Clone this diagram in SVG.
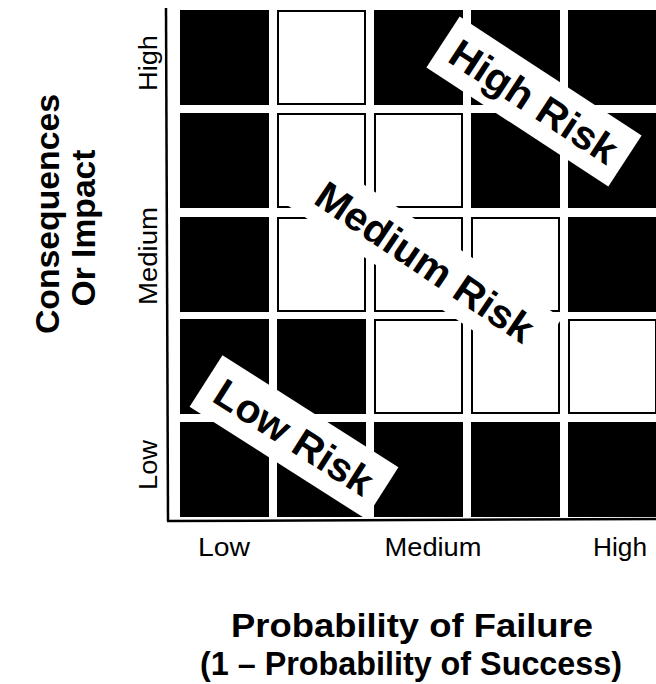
<svg xmlns="http://www.w3.org/2000/svg" width="656" height="684" viewBox="0 0 656 684">
<style>
.b{fill:#000}
.w{fill:#fff;stroke:#000;stroke-width:2}
.ax{stroke:#000;stroke-width:2.5;fill:none}
.lbl{fill:#fff}
.rt{font-family:"Liberation Sans",Arial,sans-serif;font-weight:bold;font-size:40px;fill:#000;text-anchor:middle}
.tk{font-family:"Liberation Sans",Arial,sans-serif;font-size:26px;fill:#000;text-anchor:middle}
.tt{font-family:"Liberation Sans",Arial,sans-serif;font-weight:bold;font-size:33px;fill:#000;text-anchor:middle}
</style>
<rect width="656" height="684" fill="#fff"/>
<g id="grid">
<rect class="b" x="180" y="10" width="89" height="95"/>
<rect class="w" x="278" y="11" width="87" height="93"/>
<rect class="b" x="374" y="10" width="89" height="95"/>
<rect class="b" x="471" y="10" width="89" height="95"/>
<rect class="b" x="568" y="10" width="89" height="95"/>
<rect class="b" x="180" y="113" width="89" height="95"/>
<rect class="w" x="278" y="114" width="87" height="93"/>
<rect class="w" x="375" y="114" width="87" height="93"/>
<rect class="b" x="471" y="113" width="89" height="95"/>
<rect class="b" x="568" y="113" width="89" height="95"/>
<rect class="b" x="180" y="217" width="89" height="95"/>
<rect class="w" x="278" y="218" width="87" height="93"/>
<rect class="w" x="375" y="218" width="87" height="93"/>
<rect class="w" x="472" y="218" width="87" height="93"/>
<rect class="b" x="568" y="217" width="89" height="95"/>
<rect class="b" x="180" y="319" width="89" height="95"/>
<rect class="b" x="277" y="319" width="89" height="95"/>
<rect class="w" x="375" y="320" width="87" height="93"/>
<rect class="w" x="472" y="320" width="87" height="93"/>
<rect class="w" x="569" y="320" width="87" height="93"/>
<rect class="b" x="180" y="422" width="89" height="95"/>
<rect class="b" x="277" y="422" width="89" height="95"/>
<rect class="b" x="374" y="422" width="89" height="95"/>
<rect class="b" x="471" y="422" width="89" height="95"/>
<rect class="b" x="568" y="422" width="89" height="95"/>
</g>
<g id="axes">
<line class="ax" x1="166" y1="8" x2="168" y2="521"/>
<line class="ax" x1="167" y1="521" x2="656" y2="519"/>
</g>
<g id="high-risk" transform="translate(534,101.5) rotate(33.2)">
<rect class="lbl" x="-108.7" y="-30.4" width="217.4" height="60.8"/>
<text class="rt" x="0" y="14" textLength="192" lengthAdjust="spacingAndGlyphs">High Risk</text>
</g>
<g id="medium-risk" transform="translate(425,262) rotate(34)">
<rect class="lbl" x="-145" y="-30" width="290" height="60"/>
<text class="rt" x="0" y="14" textLength="254" lengthAdjust="spacingAndGlyphs">Medium Risk</text>
</g>
<g id="low-risk" transform="translate(294,437) rotate(32.5)">
<rect class="lbl" x="-104.3" y="-30.6" width="208.6" height="61.2"/>
<text class="rt" x="0" y="14" textLength="180" lengthAdjust="spacingAndGlyphs">Low Risk</text>
</g>
<g id="y-ticks">
<text class="tk" transform="translate(157,63) rotate(-90)" textLength="56" lengthAdjust="spacingAndGlyphs">High</text>
<text class="tk" transform="translate(157,256) rotate(-90)" textLength="98" lengthAdjust="spacingAndGlyphs">Medium</text>
<text class="tk" transform="translate(157,465) rotate(-90)" textLength="50" lengthAdjust="spacingAndGlyphs">Low</text>
</g>
<g id="x-ticks">
<text class="tk" x="224" y="556" textLength="52" lengthAdjust="spacingAndGlyphs">Low</text>
<text class="tk" x="433" y="556" textLength="97" lengthAdjust="spacingAndGlyphs">Medium</text>
<text class="tk" x="620" y="556" textLength="54" lengthAdjust="spacingAndGlyphs">High</text>
</g>
<g id="y-title">
<text class="tt" transform="translate(59,214) rotate(-90)" textLength="240" lengthAdjust="spacingAndGlyphs">Consequences</text>
<text class="tt" transform="translate(95,228) rotate(-90)" textLength="157" lengthAdjust="spacingAndGlyphs">Or Impact</text>
</g>
<g id="x-title">
<text class="tt" x="412" y="637" textLength="362" lengthAdjust="spacingAndGlyphs">Probability of Failure</text>
<text class="tt" x="411" y="675" textLength="422" lengthAdjust="spacingAndGlyphs">(1 – Probability of Success)</text>
</g>
</svg>
